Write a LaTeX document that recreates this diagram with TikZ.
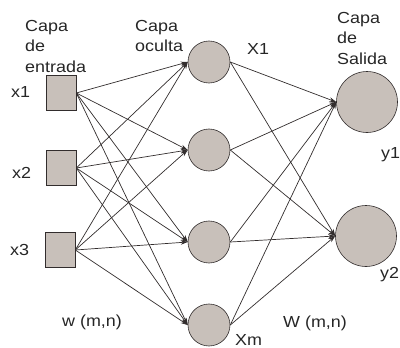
\documentclass[tikz,border=0pt]{standalone}
\usepackage{fontspec}
\setmainfont[FakeStretch=1.12]{Liberation Sans}
\usetikzlibrary{arrows.meta}
\definecolor{nodefill}{RGB}{200,192,186}
\definecolor{linecol}{RGB}{50,45,45}
\begin{document}
\begin{tikzpicture}[x=1pt,y=-1pt,
  inbox/.style={draw=linecol, fill=nodefill, minimum width=30pt, minimum height=35pt, inner sep=0pt, line width=0.6pt},
  hid/.style={circle, draw=linecol, fill=nodefill, minimum size=42pt, inner sep=0pt, line width=0.6pt},
  outc/.style={circle, draw=linecol, fill=nodefill, minimum size=61pt, inner sep=0pt, line width=0.6pt},
  conn/.style={draw=linecol, line width=0.7pt, -{Stealth[length=7pt,width=4.5pt]}},
  lbl/.style={font=\fontsize{16}{20.5}\selectfont, inner sep=0pt, text=black!85, align=left}]
\useasboundingbox (0,0) rectangle (400,348);
% inputs
\node[inbox] (i1) at (61,93) {};
\node[inbox] (i2) at (61,168) {};
\node[inbox] (i3) at (60,250) {};
% hidden
\node[hid] (h1) at (209,62) {};
\node[hid] (h2) at (209,150) {};
\node[hid] (h3) at (209,242) {};
\node[hid] (h4) at (209,325) {};
% outputs
\node[outc] (o1) at (367,102) {};
\node[outc] (o2) at (366,236) {};
% connections
\foreach \i in {1,2,3}
  \foreach \h in {1,2,3,4}
    \draw[conn] (i\i.east) -- (h\h.west);
\foreach \h in {1,2,3,4}
  \foreach \o in {1,2}
    \draw[conn] (h\h.east) -- (o\o.west);
% labels
\node[lbl, anchor=north west] (lin) at (25,20) {Capa\\de\\entrada};
\node[lbl, anchor=north west] (lhid) at (135,20) {Capa\\oculta};
\node[lbl, anchor=north west] (lout) at (337,12) {Capa\\de\\Salida};
\node[lbl, anchor=base west] (lx1) at (11,97) {x1};
\node[lbl, anchor=base west] (lx2) at (12,178) {x2};
\node[lbl, anchor=base west] (lx3) at (10,255) {x3};
\node[lbl, anchor=base west] (lX1) at (247,55) {X1};
\node[lbl, anchor=base west] (lXm) at (235,345) {Xm};
\node[lbl, anchor=base west] (ly1) at (381,158) {y1};
\node[lbl, anchor=base west] (ly2) at (380,278) {y2};
\node[lbl, anchor=base west] (lw) at (62,326) {w (m,n)};
\node[lbl, anchor=base west] (lW) at (283,327) {W (m,n)};
\end{tikzpicture}
\end{document}
